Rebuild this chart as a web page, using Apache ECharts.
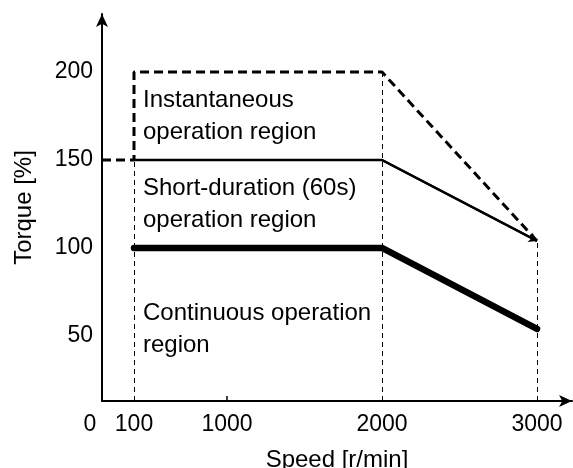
<!DOCTYPE html>
<html>
<head>
<meta charset="utf-8">
<script src="https://cdn.jsdelivr.net/npm/echarts@6/dist/echarts.min.js"></script>
<style>
  html, body { margin: 0; padding: 0; background: #fff; }
  #chart { width: 573px; height: 468px; }
</style>
</head>
<body>
<div id="chart"></div>
<script>
// Speed ticks [r/min] and torque ticks [%]
const speedTicks = [0, 100, 1000, 2000, 3000];
const torqueTicks = [50, 100, 150, 200];

// Continuous operation limit
const continuousSpeed = [100, 2000, 3000];
const continuousTorque = [100, 100, 54];

// Short-duration (60s) operation limit
const shortSpeed = [100, 2000, 3000];
const shortTorque = [150, 150, 104];

// Instantaneous operation limit
const instSpeed = [0, 100, 100, 2000, 3000];
const instTorque = [150, 150, 200, 200, 104];

// Guide lines dropped from the corner points to the speed axis
const guideSpeed = [100, 2000, 3000];
const guideTorque = [150, 200, 104];

// The speed axis is schematic: piecewise-linear spacing between its ticks
const axisLayout = [[0, 0], [100, 32], [1000, 125], [2000, 280], [3000, 435]];
function speedPos(s) {
  for (let i = 1; i < axisLayout.length; i++) {
    const [s0, p0] = axisLayout[i - 1];
    const [s1, p1] = axisLayout[i];
    if (s <= s1) return p0 + (s - s0) / (s1 - s0) * (p1 - p0);
  }
  return axisLayout[axisLayout.length - 1][1];
}
const pts = (xs, ys) => xs.map((s, i) => [speedPos(s), ys[i]]);

const TORQUE_MIN = 13, TORQUE_MAX = 233;
const FONT = '"Liberation Sans", Arial, sans-serif';

const chart = echarts.init(document.getElementById('chart'), null, { renderer: 'canvas' });

const guideLines = guideSpeed.map((s, i) => [
  { coord: [speedPos(s), TORQUE_MIN] },
  { coord: [speedPos(s), guideTorque[i]] }
]);

const textStyle = { fontFamily: FONT, fontSize: 24, fill: '#000', lineHeight: 32 };

chart.setOption({
  animation: false,
  backgroundColor: '#fff',
  grid: { left: 102, right: 1, top: 14, bottom: 67, outerBoundsMode: 'none', containLabel: false },
  xAxis: {
    type: 'value',
    min: 0,
    max: 470,
    name: 'Speed [r/min]',
    nameLocation: 'middle',
    nameGap: 47,
    nameTextStyle: { fontFamily: FONT, fontSize: 24, color: '#000' },
    axisLine: {
      onZero: false,
      symbol: ['none', 'arrow'],
      symbolSize: [9, 13],
      lineStyle: { color: '#000', width: 2 }
    },
    axisTick: {
      show: true,
      inside: true,
      length: 5,
      customValues: [speedPos(1000)],
      lineStyle: { color: '#000', width: 1.5 }
    },
    axisLabel: {
      customValues: speedTicks.map(speedPos),
      margin: 12,
      fontFamily: FONT,
      fontSize: 23,
      color: '#000',
      formatter: v => {
        const s = speedTicks.find(t => Math.abs(speedPos(t) - v) < 0.01);
        return s === 0 ? '{z|0}' : String(s);
      },
      rich: {
        z: { fontFamily: FONT, fontSize: 23, color: '#000', padding: [0, 24, 0, 0] }
      }
    },
    splitLine: { show: false }
  },
  yAxis: {
    type: 'value',
    min: TORQUE_MIN,
    max: TORQUE_MAX,
    name: 'Torque [%]',
    nameLocation: 'middle',
    nameGap: 66,
    nameTextStyle: { fontFamily: FONT, fontSize: 24, color: '#000' },
    axisLine: {
      show: true,
      onZero: false,
      symbol: ['none', 'arrow'],
      symbolSize: [9, 13],
      lineStyle: { color: '#000', width: 2 }
    },
    axisTick: { show: false },
    axisLabel: {
      customValues: torqueTicks,
      margin: 9,
      fontFamily: FONT,
      fontSize: 23,
      color: '#000',
      padding: [4, 0, 0, 0]
    },
    splitLine: { show: false }
  },
  series: [
    {
      name: 'guides',
      type: 'line',
      data: [],
      markLine: {
        silent: true,
        symbol: ['none', 'none'],
        label: { show: false },
        lineStyle: { color: '#000', width: 1, type: [5, 4] },
        data: guideLines
      }
    },
    {
      name: 'Instantaneous',
      type: 'line',
      data: pts(instSpeed, instTorque),
      showSymbol: false,
      lineStyle: { color: '#000', width: 3, type: [9, 5] }
    },
    {
      name: 'Short-duration',
      type: 'line',
      data: pts(shortSpeed, shortTorque),
      showSymbol: false,
      lineStyle: { color: '#000', width: 2.5 },
      markLine: {
        silent: true,
        symbol: ['none', 'arrow'],
        symbolSize: 8,
        label: { show: false },
        lineStyle: { color: '#000', width: 2, type: 'solid' },
        data: [[
          { coord: pts(shortSpeed, shortTorque)[1] },
          { coord: pts(shortSpeed, shortTorque)[2] }
        ]]
      }
    },
    {
      name: 'Continuous',
      type: 'line',
      data: pts(continuousSpeed, continuousTorque),
      showSymbol: false,
      lineStyle: { color: '#000', width: 6.5, cap: 'round', join: 'round' }
    }
  ],
  graphic: [
    { type: 'text', left: 143, top: 84, style: Object.assign({ text: 'Instantaneous\noperation region' }, textStyle) },
    { type: 'text', left: 143, top: 172, style: Object.assign({ text: 'Short-duration (60s)\noperation region' }, textStyle) },
    { type: 'text', left: 143, top: 297, style: Object.assign({ text: 'Continuous operation\nregion' }, textStyle) }
  ]
});
</script>
</body>
</html>
